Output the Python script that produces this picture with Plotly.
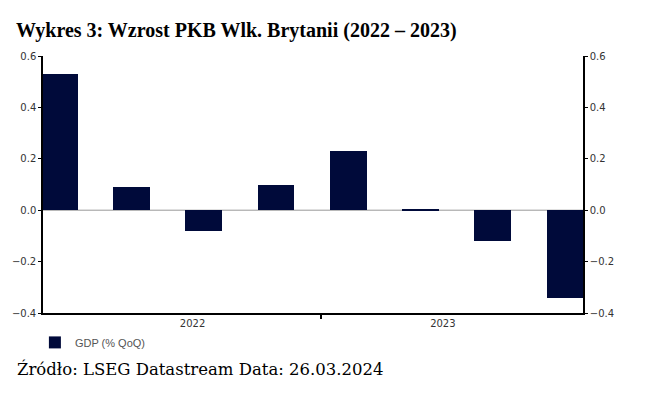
import plotly.graph_objects as go

quarters = ["Q1 2022", "Q2 2022", "Q3 2022", "Q4 2022",
            "Q1 2023", "Q2 2023", "Q3 2023", "Q4 2023"]
gdp_qoq = [0.53, 0.09, -0.08, 0.10, 0.23, 0.005, -0.12, -0.34]
year_labels = ["2022", "2023"]
series_name = "GDP (% QoQ)"
title_text = "Wykres 3: Wzrost PKB Wlk. Brytanii (2022 – 2023)"
source_text = "Źródło: LSEG Datastream Data: 26.03.2024"

x_idx = list(range(len(quarters)))
year_pos = [1.845, 5.31]
year_sep = [3.63]

BAR = "#000a3a"
TICK_FONT = dict(family="DejaVu Sans", size=10, color="#333333")

fig = go.Figure()
fig.add_trace(go.Bar(
    x=x_idx, y=gdp_qoq, name=series_name, width=0.508,
    marker=dict(color=BAR, line=dict(width=0)),
    customdata=quarters, hovertemplate="%{customdata}: %{y}<extra></extra>",
))
fig.add_trace(go.Scatter(
    x=x_idx, y=gdp_qoq, yaxis="y2", mode="none", showlegend=False, hoverinfo="skip",
))

yax = dict(range=[-0.4, 0.6], dtick=0.2, tick0=-0.4, tickformat=".1f",
           showgrid=False, zeroline=False, showline=True, linecolor="#000000",
           linewidth=1.5, ticks="outside", ticklen=3, tickcolor="#000000",
           tickfont=TICK_FONT, fixedrange=True)

fig.update_layout(
    width=672, height=394,
    margin=dict(l=43, r=89, t=56, b=81),
    paper_bgcolor="white", plot_bgcolor="white",
    bargap=0,
    xaxis=dict(range=[-0.225, 7.25], tickvals=year_pos, ticktext=year_labels,
               ticks="", showgrid=False, zeroline=False, showline=True,
               linecolor="#000000", linewidth=1.5, tickfont=TICK_FONT,
               fixedrange=True,
               minor=dict(tickvals=year_sep, ticks="outside", ticklen=4,
                          tickcolor="#000000", tickwidth=1.5, showgrid=False)),
    yaxis=yax,
    yaxis2=dict(yax, overlaying="y", side="right"),
    showlegend=True,
    legend=dict(x=-0.015, y=-0.058, xanchor="left", yanchor="top",
                font=dict(family="Liberation Sans", size=11, color="#555555"),
                bgcolor="rgba(0,0,0,0)"),
    title=dict(text=f"<b>{title_text}</b>", x=16/672, xref="container", xanchor="left",
               y=1 - 37/394, yref="container", yanchor="bottom",
               font=dict(family="Liberation Serif", size=20, color="#000000")),
    annotations=[dict(text=source_text, xref="paper", yref="paper",
                      x=(15 - 43) / 540, y=-(381 - 313) / 257, xanchor="left",
                      yanchor="bottom", showarrow=False,
                      font=dict(family="DejaVu Serif", size=16.5, color="#000000"))],
    shapes=[dict(type="line", xref="paper", yref="y", x0=0, x1=1, y0=0, y1=0,
                 line=dict(color="#999999", width=1), layer="below")],
)

fig.write_html("out.html", config={"displayModeBar": False},
               post_script="document.body.style.margin='0';")
